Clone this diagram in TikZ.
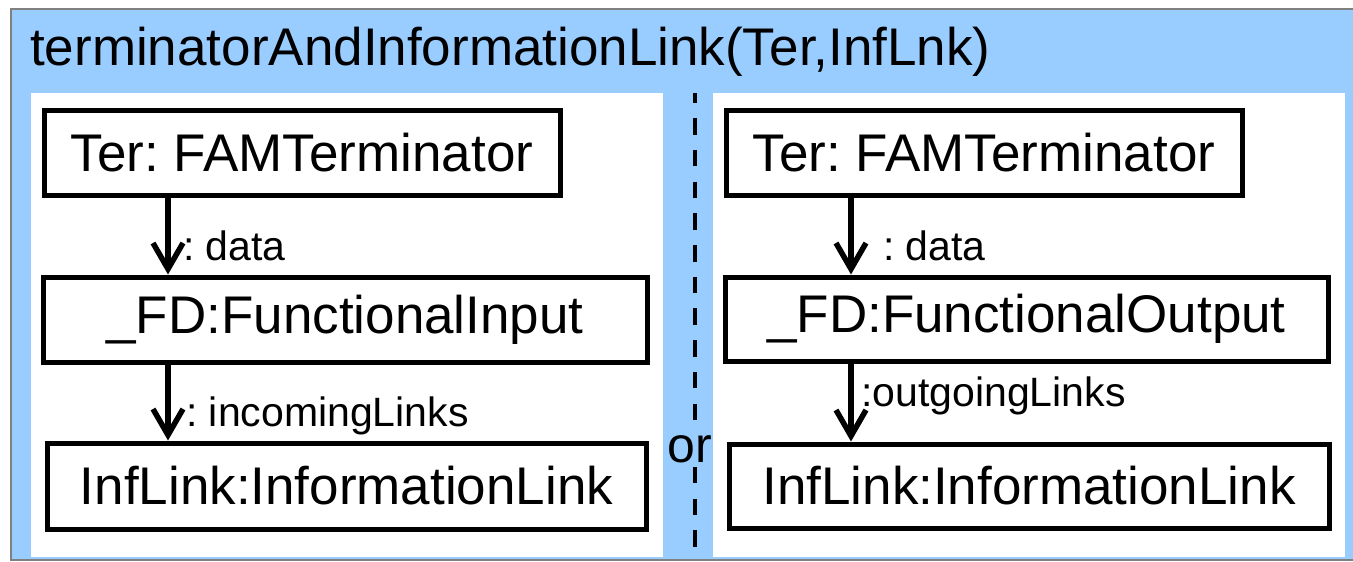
\documentclass[tikz,border=0pt]{standalone}
\usepackage{fontspec}
\setmainfont{Liberation Sans}
\usetikzlibrary{arrows.meta}
\definecolor{frameblue}{RGB}{153,204,255}
\definecolor{framegray}{RGB}{128,128,128}
\frenchspacing
\begin{document}
\begin{tikzpicture}[x=1pt,y=-1pt,
  cls/.style={draw, line width=5pt, inner sep=0pt, fill=white,
    font=\fontsize{53}{60}\selectfont},
  role/.style={anchor=base west, inner sep=0pt,
    font=\fontsize{41}{48}\selectfont},
  link/.style={line width=5.5pt,
    -{Straight Barb[length=26pt,width=30pt]}},
  caption/.style={anchor=base west, inner sep=0pt,
    font=\fontsize{53}{60}\selectfont},
]
\useasboundingbox (0,0) rectangle (1353,562);

% outer blue frame and its two white compartments
\fill[frameblue] (11,9) rectangle (1353,560);
\draw[framegray, line width=2pt] (1353,9) -- (11,9) -- (11,560) -- (1353,560);
\fill[white] (31,93) rectangle (663,557);
\fill[white] (713,93) rectangle (1345,557);

\node[caption] (title) at (30,65) {terminatorAndInformationLink(Ter,InfLnk)};

% dashed separator with the "or" label over it
\coordinate (septop) at (695,93);
\coordinate (sepbot) at (695,562);
\draw[line width=4pt, dash pattern=on 16.5pt off 15.2pt, dash phase=6.5pt]
  (septop) -- (sepbot);
\node[fill=frameblue, inner sep=0pt, anchor=base west,
  font=\fontsize{50}{60}\selectfont] (or) at (667,462) {or};

% left alternative
\node[cls, minimum width=516pt, minimum height=85pt] (lter) at (302,152.5) {Ter: FAMTerminator};
\node[cls, minimum width=604pt, minimum height=85pt] (lfd) at (345,319.5) {\_FD:FunctionalInput};
\node[cls, minimum width=599pt, minimum height=86pt] (llink) at (346.5,486) {InfLink:InformationLink};

% right alternative
\node[cls, minimum width=516pt, minimum height=85pt] (rter) at (984,152.5) {Ter: FAMTerminator};
\node[cls, minimum width=603pt, minimum height=84pt] (rfd) at (1026.5,319) {\_FD:FunctionalOutput};
\node[cls, minimum width=600pt, minimum height=84pt] (rlink) at (1029,486) {InfLink:InformationLink};

% links
\coordinate (lx) at (168,0);
\coordinate (rx) at (851,0);
\draw[link] (lter.south -| lx) -- (lfd.north -| lx);
\draw[link] (lfd.south -| lx) -- (llink.north -| lx);
\draw[link] (rter.south -| rx) -- (rfd.north -| rx);
\draw[link] (rfd.south -| rx) -- (rlink.north -| rx);

% role names
\node[role] (ldata) at (183,260) {: data};
\node[role] (lin) at (186,426) {: incomingLinks};
\node[role] (rdata) at (883,260) {: data};
\node[role] (rout) at (861,406) {:outgoingLinks};
\end{tikzpicture}
\end{document}
